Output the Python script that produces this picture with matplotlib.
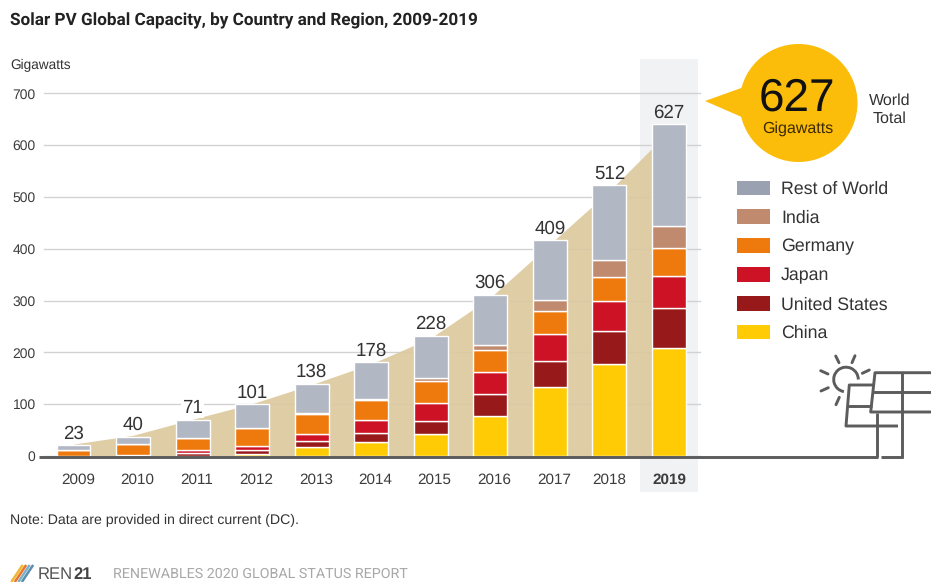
import numpy as np
import matplotlib
matplotlib.use("Agg")
import matplotlib.pyplot as plt
from matplotlib.patches import Circle, Polygon, Arc, Patch

plt.rcParams['font.family'] = ['Liberation Sans', 'DejaVu Sans']
plt.rcParams['text.hinting'] = 'no_hinting'

years = [2009, 2010, 2011, 2012, 2013, 2014, 2015, 2016, 2017, 2018, 2019]
totals = [23, 40, 71, 101, 138, 178, 228, 306, 409, 512, 627]

# stacked segment heights, GW
china = [0, 0, 0, 3, 17, 28, 43, 77, 133, 178, 208]
usa = [0, 0, 5, 9, 12, 16, 25, 43, 50, 63, 78]
japan = [0, 2, 6, 8, 13, 25, 34, 42, 52, 58, 61]
germany = [12, 21, 24, 34, 39, 39, 43, 43, 45, 46, 54]
india = [0, 0, 0, 0, 2, 2, 5, 9, 21, 33, 43]
row = [9, 14, 35, 46, 56, 71, 82, 97, 116, 145, 197]

names = ['China', 'United States', 'Japan', 'Germany', 'India', 'Rest of World']
series = [china, usa, japan, germany, india, row]
colors = ['#ffcb05', '#98191a', '#cc1224', '#ee7a0e', '#c08a6e', '#b2b7c4']
legend_colors = ['#ffcb05', '#98191a', '#cc1224', '#ee7a0e', '#c08a6e', '#9aa1b1']

# year labels do not sit exactly under the bars in the original
label_shift = [0.075, 0.07, 0.07, 0.075, 0.07, 0.07, 0.05, 0.06, 0.07, 0, 0]

W, H = 931, 582
fig = plt.figure(figsize=(W / 100, H / 100), dpi=100, facecolor='white')

def pixel_axes(z):
    a = fig.add_axes([0, 0, 1, 1], zorder=z)
    a.set_xlim(0, W)
    a.set_ylim(H, 0)
    a.axis('off')
    return a

bg = pixel_axes(0)
fg = pixel_axes(2)

# highlight behind 2019
bg.add_patch(plt.Rectangle((640, 59), 58, 433, color='#f0f2f4', lw=0))

# main axes: 44..700 px across, 700 at y=93.5, 0 at y=456
ax = fig.add_axes([44 / W, 1 - 456 / H, 656 / W, 362.5 / H], zorder=1)
ax.patch.set_alpha(0)
ax.set_ylim(0, 700)
ax.set_xlim(2009 + (44 - 73.5) / 59.55, 2009 + (700 - 73.5) / 59.55)
for s in ax.spines.values():
    s.set_visible(False)
ax.set_yticks(range(0, 701, 100))
ax.set_xticks(np.array(years) + np.array(label_shift), [str(y) for y in years])
ax.tick_params(length=0, colors='#3c3c3c')
ax.tick_params(axis='y', labelsize=10, pad=6)
ax.tick_params(axis='x', labelsize=11, pad=12.5)
ax.get_xticklabels()[-1].set_fontweight('bold')
ax.grid(axis='y', color='#d2d2d2', lw=1, zorder=1, clip_on=False)
ax.set_axisbelow(True)

ax.fill_between(years, totals, color='#dcc89d', alpha=0.9, lw=0, zorder=1.5)

bottom = np.zeros(len(years))
for vals, c in zip(series, colors):
    ax.bar(years, vals, bottom=bottom, width=0.57, color=c, edgecolor='white', lw=1.0, zorder=3)
    bottom = bottom + np.array(vals)

for x, top, t in zip(years, bottom, totals):
    ax.annotate(str(t), (x, top), xytext=(0, 2), textcoords='offset points', ha='center', va='bottom',
                fontsize=13.5, color='#333333', zorder=4,
                bbox=dict(facecolor='white', edgecolor='none', pad=0.6, alpha=1 if t == 71 else 0))

# text around the plot
fg.text(10, 21, 'Solar PV Global Capacity, by Country and Region, 2009-2019', fontsize=12.3, fontweight='bold',
        family=['Roboto', 'DejaVu Sans'], color='#222222', va='center')
fg.text(10, 65.5, 'Gigawatts', fontsize=9.8, color='#333333', va='center')
fg.text(10, 520.5, 'Note: Data are provided in direct current (DC).', fontsize=10.2, color='#333333', va='center')

# bubble
fg.add_patch(Circle((798.5, 103), 59, color='#fcbc0a', lw=0))
fg.add_patch(Polygon([(705, 101), (744, 87), (744, 118)], color='#fcbc0a', lw=0))
fg.text(797, 99, '627', fontsize=33, ha='center', va='center', color='#111111')
fg.text(798, 128.5, 'Gigawatts', fontsize=11.5, ha='center', va='center', color='#3a2a00')
fg.text(889.5, 110, 'World\nTotal', fontsize=11.5, ha='center', va='center', color='#333333', linespacing=1.25)

# legend, top entry first
handles = [Patch(color=c, lw=0) for c in legend_colors[::-1]]
fg.legend(handles, names[::-1], loc='upper left', bbox_to_anchor=(737, 180.5), bbox_transform=fg.transData,
          frameon=False, fontsize=12.8, labelcolor='#333333', borderpad=0, borderaxespad=0,
          labelspacing=0.66, handlelength=1.86, handleheight=0.88, handletextpad=0.62)

# baseline and solar panel icon
line = dict(color='#5c5c5c', lw=2.1, solid_capstyle='butt', zorder=5)
fg.plot([39, 877.5], [456.7, 456.7], **line)
fg.plot([877, 877], [456.7, 413], **line)
fg.plot([880.5, 902.5], [456.7, 456.7], **line)
fg.plot([902, 902], [457.5, 373], **line)
fg.plot([931, 875, 870.7, 931], [372.7, 372.7, 412, 412], **line)
fg.plot([873, 931], [392, 392], **line)
fg.plot([873, 849.3, 846, 898], [385, 385, 426, 426], **line)
fg.plot([847.7, 871.7], [405.7, 405.7], **line)
fg.add_patch(Arc((846, 379.5), 24.6, 24.6, theta1=100, theta2=360, color='#5c5c5c', lw=2.1))
rays = [((835.7, 356), (839, 362.7)), ((855, 355.7), (852, 362.7)), ((820.7, 370.7), (828, 374)),
        ((862.3, 373.3), (869.3, 370)), ((821, 391), (828.3, 387.7)), ((839.3, 397.3), (836, 404.7))]
for p, q in rays:
    fg.plot([p[0], q[0]], [p[1], q[1]], color='#5c5c5c', lw=2.1, solid_capstyle='round')

# footer
for i, c in enumerate(['#f2b632', '#e8752a', '#7fb2c9', '#5b8fb0']):
    fg.plot([12 + i * 3.5, 22 + i * 3.5], [581, 566], color=c, lw=1.8)
fg.text(37.5, 574.5, 'REN', fontsize=12, color='#555555', va='center')
fg.text(73, 574.5, '21', fontsize=12, color='#444444', va='center', fontweight='bold')
fg.text(113, 574.5, 'RENEWABLES 2020 GLOBAL STATUS REPORT', fontsize=10.3, color='#a8a8a8', va='center',
        family=['Roboto', 'DejaVu Sans'])

fig.savefig('out.png', dpi=100)
